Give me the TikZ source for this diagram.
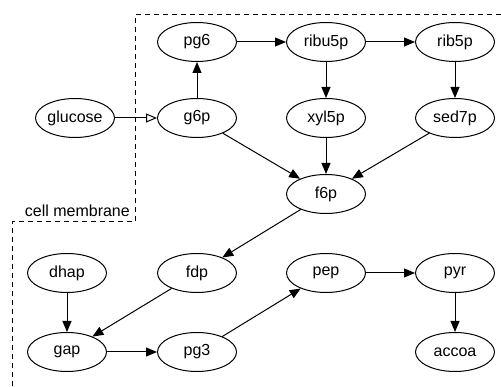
\documentclass[tikz,border=0pt]{standalone}
\usepackage{fontspec}
\setmainfont{Liberation Sans}
\usetikzlibrary{arrows.meta, shapes.geometric}
\tikzstyle{met} = [
    ellipse,
    draw=black,
    line width=1pt,
    minimum width=79pt,
    minimum height=39pt,
    inner sep=0pt,
    font=\fontsize{16}{19}\selectfont
]
\tikzstyle{arrow} = [line width=1pt, -{Triangle[length=11pt, width=9pt]}]
\tikzstyle{transport} = [line width=1pt, -{Triangle[open, length=11pt, width=9pt]}]
\tikzstyle{membrane} = [line width=1pt, dash pattern=on 5pt off 4pt]

\begin{document}
\begin{tikzpicture}[x=1pt, y=-1pt]
    \useasboundingbox (0,0) rectangle (501,387);

    \node (glucose) [met] at (75,118) {glucose};
    \node (pg6) [met] at (197,42) {pg6};
    \node (g6p) [met] at (197,118) {g6p};
    \node (ribu5p) [met] at (326,42) {ribu5p};
    \node (rib5p) [met] at (455,42) {rib5p};
    \node (xyl5p) [met] at (326,118) {xyl5p};
    \node (sed7p) [met] at (455,118) {sed7p};
    \node (f6p) [met] at (326,194) {f6p};
    \node (dhap) [met] at (67,273) {dhap};
    \node (fdp) [met] at (197,273) {fdp};
    \node (pep) [met] at (326,273) {pep};
    \node (pyr) [met] at (455,273) {pyr};
    \node (gap) [met] at (67,352) {gap};
    \node (pg3) [met] at (197,352) {pg3};
    \node (accoa) [met] at (455,352) {accoa};

    % membrane boundary
    \coordinate (mtop) at (501,15);
    \coordinate (mbottom) at (12,387);
    \draw [membrane] (mtop) -- (135,15) -- (135,222) -- (12,222) -- (mbottom);
    \node (label) [anchor=east, inner sep=0pt,
        font=\fontsize{16}{19}\selectfont] at (130,211) {cell membrane};

    \draw [transport] (glucose) -- (g6p);
    \draw [arrow] (g6p) -- (pg6);
    \draw [arrow] (pg6) -- (ribu5p);
    \draw [arrow] (ribu5p) -- (rib5p);
    \draw [arrow] (ribu5p) -- (xyl5p);
    \draw [arrow] (rib5p) -- (sed7p);
    \draw [arrow] (g6p) -- (f6p);
    \draw [arrow] (xyl5p) -- (f6p);
    \draw [arrow] (sed7p) -- (f6p);
    \draw [arrow] (f6p) -- (fdp);
    \draw [arrow] (fdp) -- (gap);
    \draw [arrow] (dhap) -- (gap);
    \draw [arrow] (gap) -- (pg3);
    \draw [arrow] (pg3) -- (pep);
    \draw [arrow] (pep) -- (pyr);
    \draw [arrow] (pyr) -- (accoa);
\end{tikzpicture}
\end{document}
